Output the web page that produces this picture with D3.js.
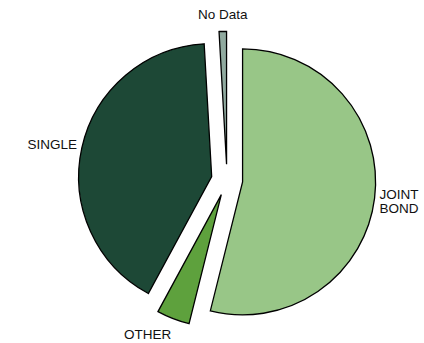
<!DOCTYPE html>
<html>
<head>
<meta charset="utf-8">
<script src="https://cdn.jsdelivr.net/npm/d3@7"></script>
<style>
  body { margin: 0; background: #fff; }
  text { font-family: Arial, 'Liberation Sans', sans-serif; font-size: 13.5px; fill: #111; }
</style>
</head>
<body>
<div id="chart"></div>
<script>
// slices clockwise from 12 o'clock
var categories = ['JOINT BOND', 'OTHER', 'SINGLE', 'No Data'];
var values = [53.9, 4.0, 41.2, 0.9];
var colors = ['#98c687', '#5ea13d', '#1d4836', '#90aa9f'];

var width = 424, height = 343;
var cx = 227, cy = 180;
var radius = 133;
var explode = 15.7;
var labelGap = 5;

var svg = d3.select('#chart')
            .append('svg')
            .attr('width', width)
            .attr('height', height)
            .append('g')
            .attr('transform', `translate(${cx},${cy})`);

var data = categories.map((c, i) => ({ name: c, value: values[i], color: colors[i] }));

var pie = d3.pie()
            .sort(null)
            .value(d => d.value);

var arc = d3.arc()
            .innerRadius(0)
            .outerRadius(radius);

var arcs = pie(data);

function mid(d) {
    return (d.startAngle + d.endAngle) / 2;
}

var slices = svg.selectAll('.slice')
    .data(arcs)
    .enter()
    .append('g')
    .attr('class', 'slice')
    .attr('transform', d => {
        var a = mid(d);
        return `translate(${explode * Math.sin(a)},${-explode * Math.cos(a)})`;
    });

slices.append('path')
      .attr('d', arc)
      .attr('fill', d => d.data.color)
      .attr('stroke', '#000')
      .attr('stroke-width', 1.3)
      .attr('stroke-linejoin', 'miter');

// labels just outside each slice, placed along the slice's middle angle
var lineHeight = 14;
slices.each(function(d) {
    var a = mid(d);
    var dx = Math.sin(a), dy = -Math.cos(a);
    var r = radius + labelGap;
    var px = r * dx, py = r * dy;
    var lines = d.data.name === 'JOINT BOND' ? ['JOINT', 'BOND'] : [d.data.name];
    var h = lines.length * lineHeight;
    var anchor = dx > 0.3 ? 'start' : (dx < -0.3 ? 'end' : 'middle');
    var centerY = py + dy * h * 0.85;
    var t = d3.select(this).append('text')
              .attr('text-anchor', anchor);
    lines.forEach((l, i) => {
        t.append('tspan')
         .attr('x', px)
         .attr('y', centerY - h / 2 + lineHeight * i + lineHeight / 2)
         .attr('dy', '0.35em')
         .text(l);
    });
});
</script>
</body>
</html>
